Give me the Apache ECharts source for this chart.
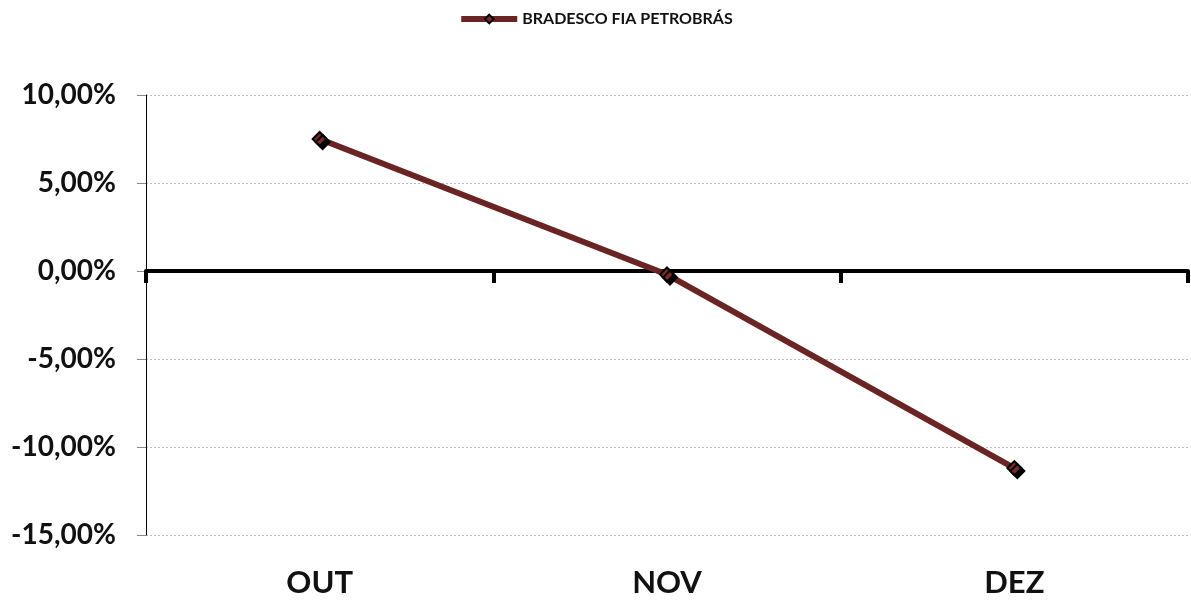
<!DOCTYPE html>
<html><head><meta charset="utf-8">
<script src="https://cdn.jsdelivr.net/npm/echarts@6/dist/echarts.min.js"></script>
<style>html,body{margin:0;padding:0;background:#fff}#c{width:1191px;height:600px}</style>
</head><body><div id="c"></div>
<script>
const categories = ['OUT', 'NOV', 'DEZ'];
const seriesName = 'BRADESCO FIA PETROBRÁS';
const values = [7.5, -0.2, -11.2];
const yMin = -15, yMax = 10, yStep = 5;

const chart = echarts.init(document.getElementById('c'));
const font = 'Lato, "Open Sans", sans-serif';
chart.setOption({
  animation: false,
  backgroundColor: '#fff',
  legend: {
    top: 6, left: 'center',
    itemWidth: 56, itemHeight: 11, itemGap: 3,
    lineStyle: {width: 6, color: '#6B2424'},
    textStyle: {fontFamily: font, fontWeight: 'bold', fontSize: 16, color: '#111'},
    data: [seriesName]
  },
  grid: {left: 146, right: 3, top: 95, bottom: 65},
  xAxis: [
    {type: 'category', data: categories, position: 'bottom',
     axisLine: {show: false, onZero: false}, axisTick: {show: false},
     axisLabel: {fontFamily: font, fontWeight: 'bold', fontSize: 31, color: '#111', margin: 32}},
    {type: 'category', data: categories, position: 'top',
     axisLine: {onZero: true, lineStyle: {color: '#000', width: 4}},
     axisTick: {show: true, inside: true, length: 12, lineStyle: {color: '#000', width: 4}},
     axisLabel: {show: false}}
  ],
  yAxis: {
    type: 'value', min: yMin, max: yMax, interval: yStep,
    axisLine: {show: true, onZero: false, lineStyle: {color: '#000', width: 1}},
    axisTick: {show: true, length: 9, lineStyle: {color: '#888', width: 1}},
    axisLabel: {fontFamily: font, fontWeight: 'bold', fontSize: 28, color: '#111', margin: 30,
      formatter: v => v.toFixed(2).replace('.', ',') + '%'},
    splitLine: {show: true, lineStyle: {color: '#bbb', type: [2, 2], width: 1}}
  },
  series: [{
    name: seriesName, type: 'line', xAxisIndex: 1, data: values,
    symbol: 'diamond', symbolSize: 14,
    lineStyle: {color: '#6B2424', width: 6},
    itemStyle: {color: '#7A2A2A', borderColor: '#000', borderWidth: 2,
      shadowColor: '#000', shadowOffsetX: 3, shadowOffsetY: 3, shadowBlur: 0},
    z: 5
  }]
});
</script></body></html>
